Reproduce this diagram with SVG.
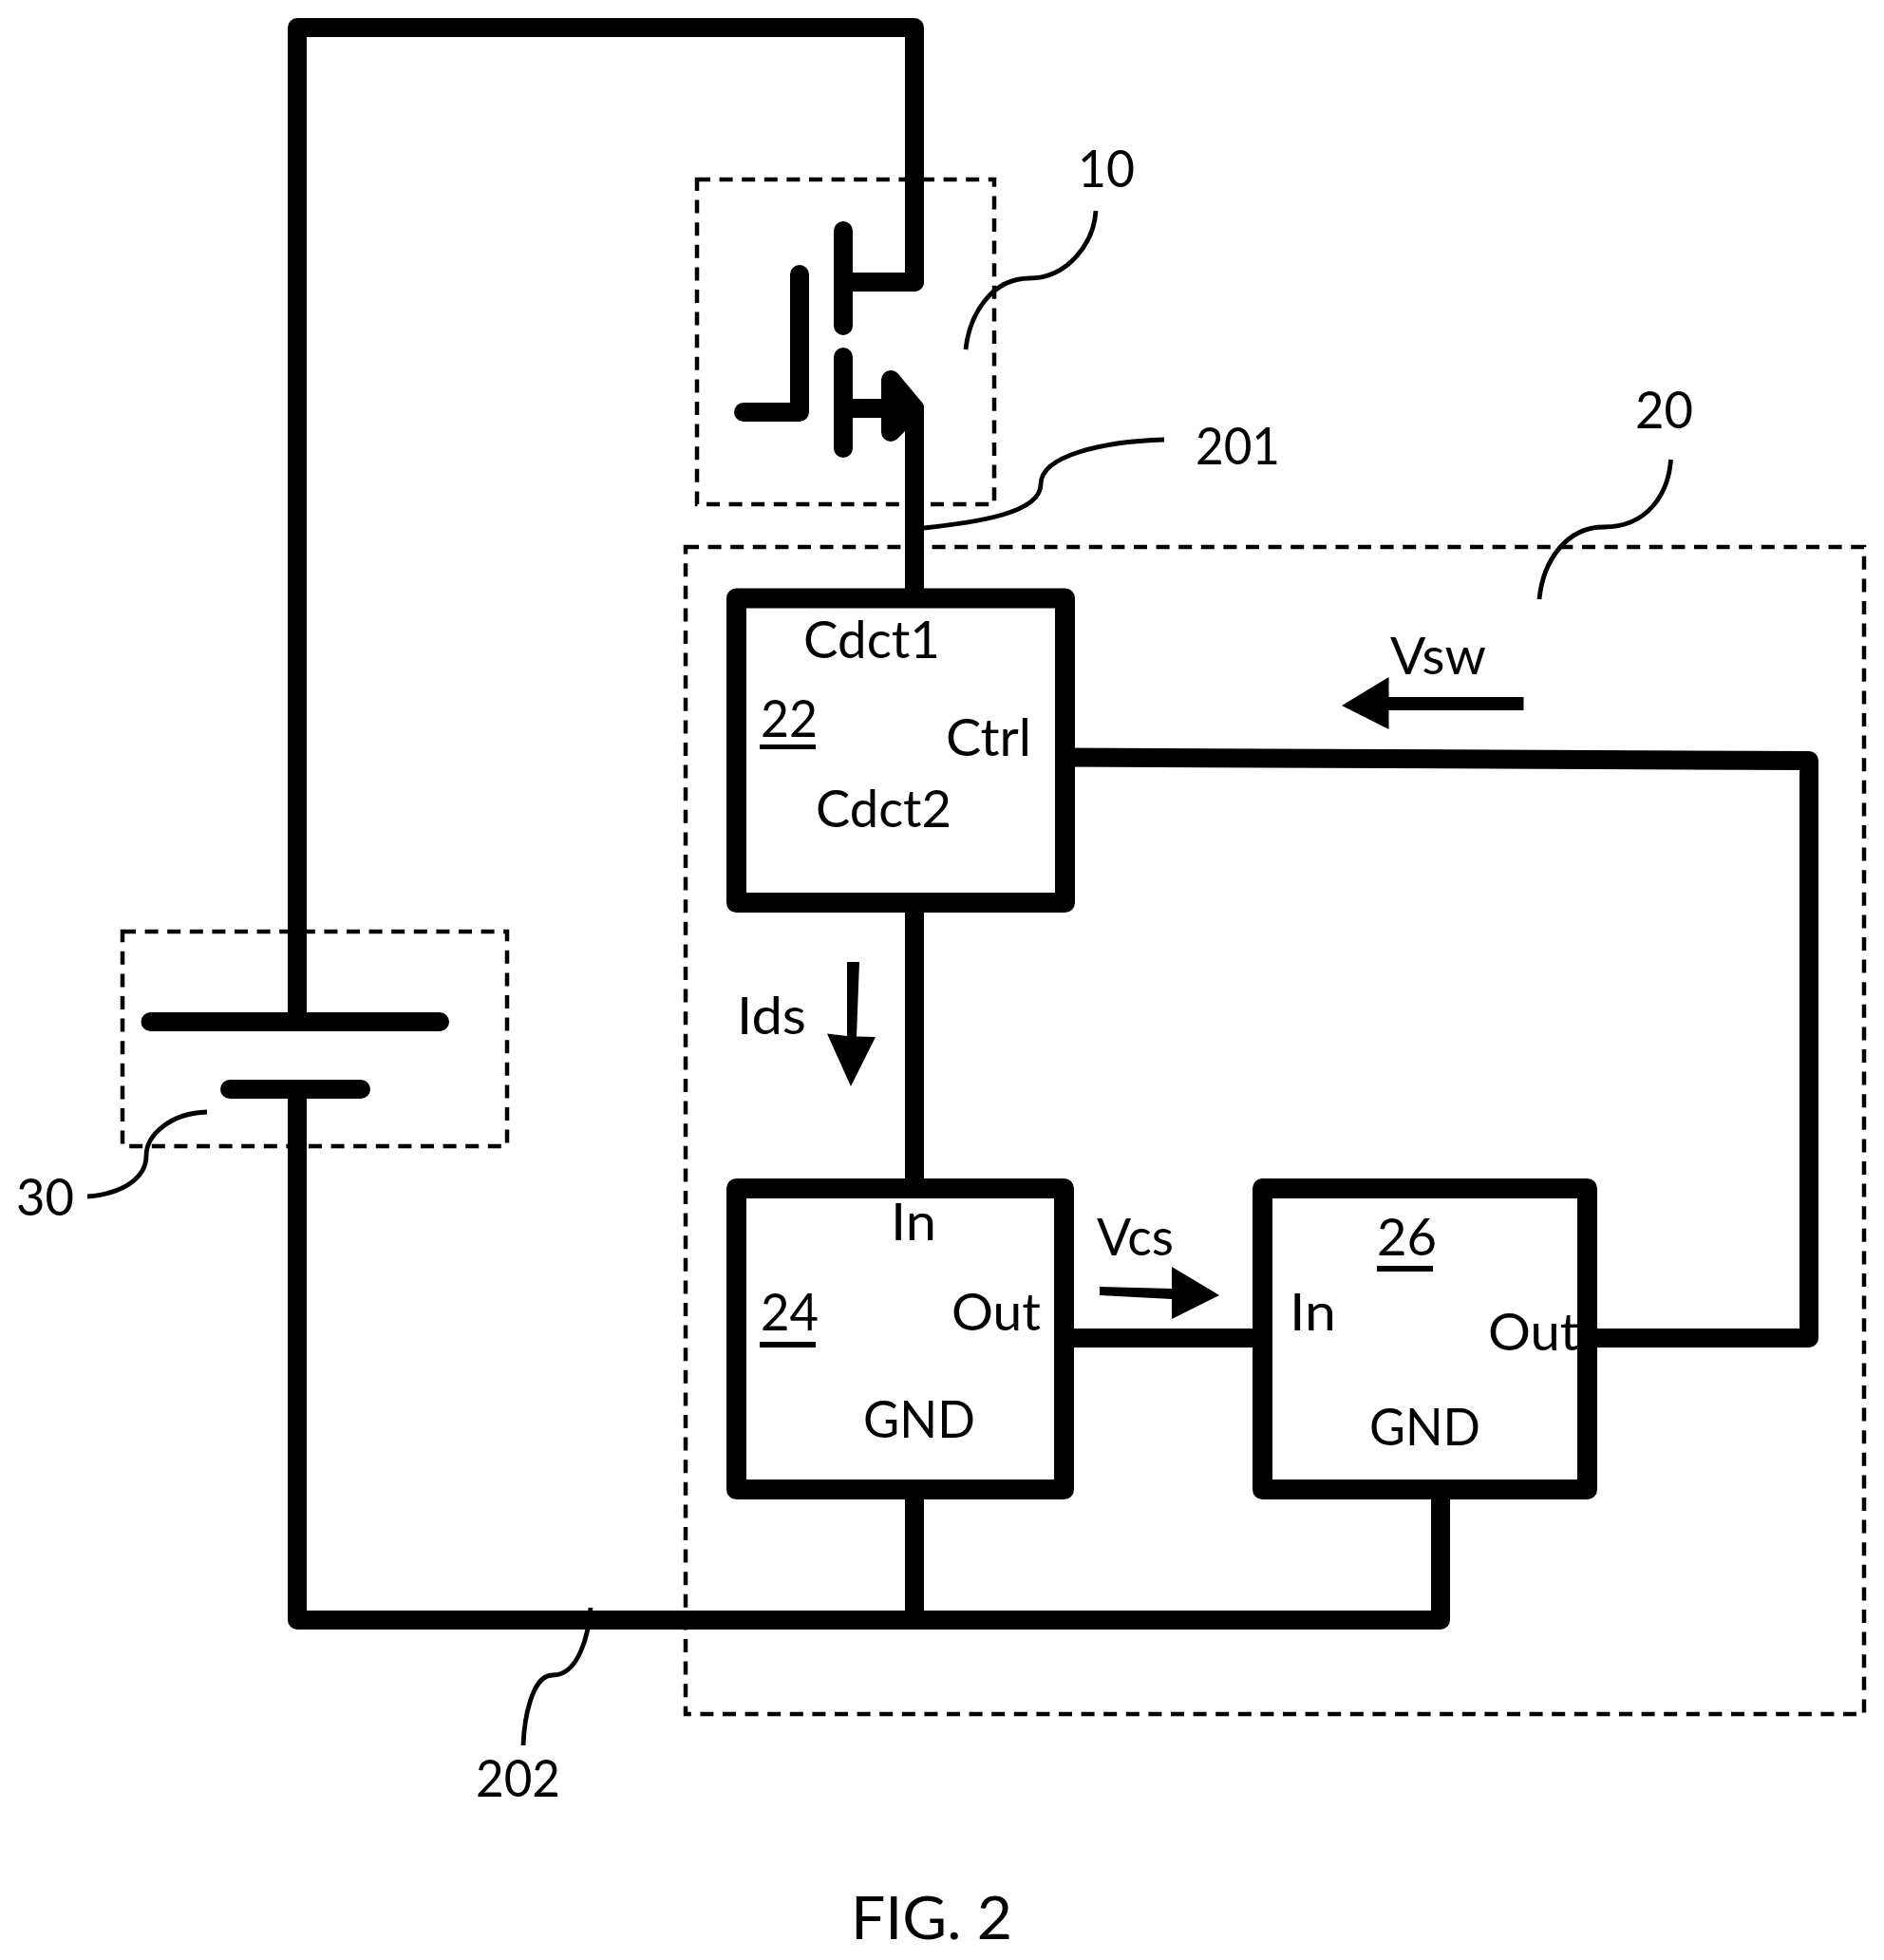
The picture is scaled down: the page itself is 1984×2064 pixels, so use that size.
<svg xmlns="http://www.w3.org/2000/svg" width="1984" height="2064" viewBox="0 0 1984 2064">
<style>
.w{fill:none;stroke:#000;stroke-width:20;stroke-linecap:round;stroke-linejoin:round}
.b{fill:none;stroke:#000;stroke-width:21;stroke-linejoin:round}
.d{fill:none;stroke:#000;stroke-width:4.5;stroke-dasharray:14 9.6}
.l{fill:none;stroke:#000;stroke-width:4.8}
.a{fill:#000;stroke:none}
text{font-family:"Lato","Open Sans","Liberation Sans",sans-serif;font-size:54px;fill:#000}
</style>
<rect width="1984" height="2064" fill="#fff"/>
<g id="connectors">
<path class="w" d="M963 297V29H313V1076"/>
<path class="w" d="M313 1147V1706H1517V1570"/>
<path class="w" d="M963 430V630"/>
<path class="w" d="M963 950V1251"/>
<path class="w" d="M963 1569V1706"/>
<path class="w" d="M1121 1409H1329"/>
<path class="w" d="M1122 797.500L1905 801V1409H1671"/>
<path class="l" d="M973 556C1030 550 1096 540 1096 510C1096 480 1160 465 1226 463"/>
<path class="l" d="M622 1693C620 1720 610 1764 582 1764C560 1764 552 1810 551 1838"/>
<path class="a" d="M1604.500 734V748H1462.500V768L1413 743L1462.500 713V734Z"/>
<path class="a" d="M1158 1355L1234 1357V1334L1284 1364L1234 1389V1368L1158 1364Z"/>
<path class="a" d="M892 1013H905L902 1091.500L922 1092L896 1144L871 1088.600L892 1091Z"/>
</g>
<g id="node-10">
<rect class="d" x="734" y="189" width="313" height="342"/>
<path class="w" d="M888 243V343M888 376V472M888 297H963M842 289V434H783M888 430H963"/>
<path d="M938 400L963 430L938 455Z" fill="#000" stroke="#000" stroke-width="20" stroke-linejoin="round"/>
<path class="l" d="M1154 222C1152 255 1125 293 1084 293C1045 293 1021 330 1017 368"/>
<text x="1135" y="197" textLength="60" lengthAdjust="spacingAndGlyphs">10</text>
<text x="1259" y="489" textLength="89" lengthAdjust="spacingAndGlyphs">201</text>
</g>
<g id="node-20">
<rect class="d" x="722" y="576" width="1241" height="1229"/>
<path class="l" d="M1759.500 484C1757 520 1735 555 1689 555C1650 555 1625 590 1621 631"/>
<text x="1722" y="451" textLength="61" lengthAdjust="spacingAndGlyphs">20</text>
<text x="1464" y="710" textLength="101" lengthAdjust="spacingAndGlyphs">Vsw</text>
<text x="776" y="1089" textLength="73" lengthAdjust="spacingAndGlyphs">Ids</text>
<text x="1155" y="1322" textLength="81" lengthAdjust="spacingAndGlyphs">Vcs</text>
<text x="501" y="1892" textLength="89" lengthAdjust="spacingAndGlyphs">202</text>
</g>
<g id="node-22">
<rect class="b" x="775.500" y="630" width="346" height="320.500"/>
<text x="846" y="693" textLength="144" lengthAdjust="spacingAndGlyphs">Cdct1</text>
<text x="801" y="775.500" textLength="60" lengthAdjust="spacingAndGlyphs">22</text>
<rect class="a" x="800" y="784" width="59" height="5"/>
<text x="996" y="796" textLength="90" lengthAdjust="spacingAndGlyphs">Ctrl</text>
<text x="859" y="871" textLength="143" lengthAdjust="spacingAndGlyphs">Cdct2</text>
</g>
<g id="node-24">
<rect class="b" x="775.500" y="1251.500" width="345" height="317"/>
<text x="938" y="1306" textLength="48" lengthAdjust="spacingAndGlyphs">In</text>
<text x="801" y="1401" textLength="61" lengthAdjust="spacingAndGlyphs">24</text>
<rect class="a" x="800" y="1413" width="59" height="6"/>
<text x="1002" y="1401" textLength="94" lengthAdjust="spacingAndGlyphs">Out</text>
<text x="909" y="1514" textLength="118" lengthAdjust="spacingAndGlyphs">GND</text>
</g>
<g id="node-26">
<rect class="b" x="1329.500" y="1251.500" width="342" height="317"/>
<text x="1450" y="1322" textLength="63" lengthAdjust="spacingAndGlyphs">26</text>
<rect class="a" x="1450" y="1333" width="59" height="6"/>
<text x="1358" y="1401" textLength="49" lengthAdjust="spacingAndGlyphs">In</text>
<text x="1567" y="1422" textLength="96" lengthAdjust="spacingAndGlyphs">Out</text>
<text x="1442" y="1522" textLength="117" lengthAdjust="spacingAndGlyphs">GND</text>
</g>
<g id="node-30">
<rect class="d" x="129" y="981" width="405" height="226"/>
<path class="w" d="M158.500 1076H463M242 1147H380"/>
<path class="l" d="M92 1260C130 1257 154 1240 154 1217C154 1195 180 1172 218 1171"/>
<text x="17" y="1280" textLength="61" lengthAdjust="spacingAndGlyphs">30</text>
</g>
<text id="caption" x="896" y="2042" textLength="170" lengthAdjust="spacingAndGlyphs" style="font-size:61px">FIG. 2</text>
</svg>
